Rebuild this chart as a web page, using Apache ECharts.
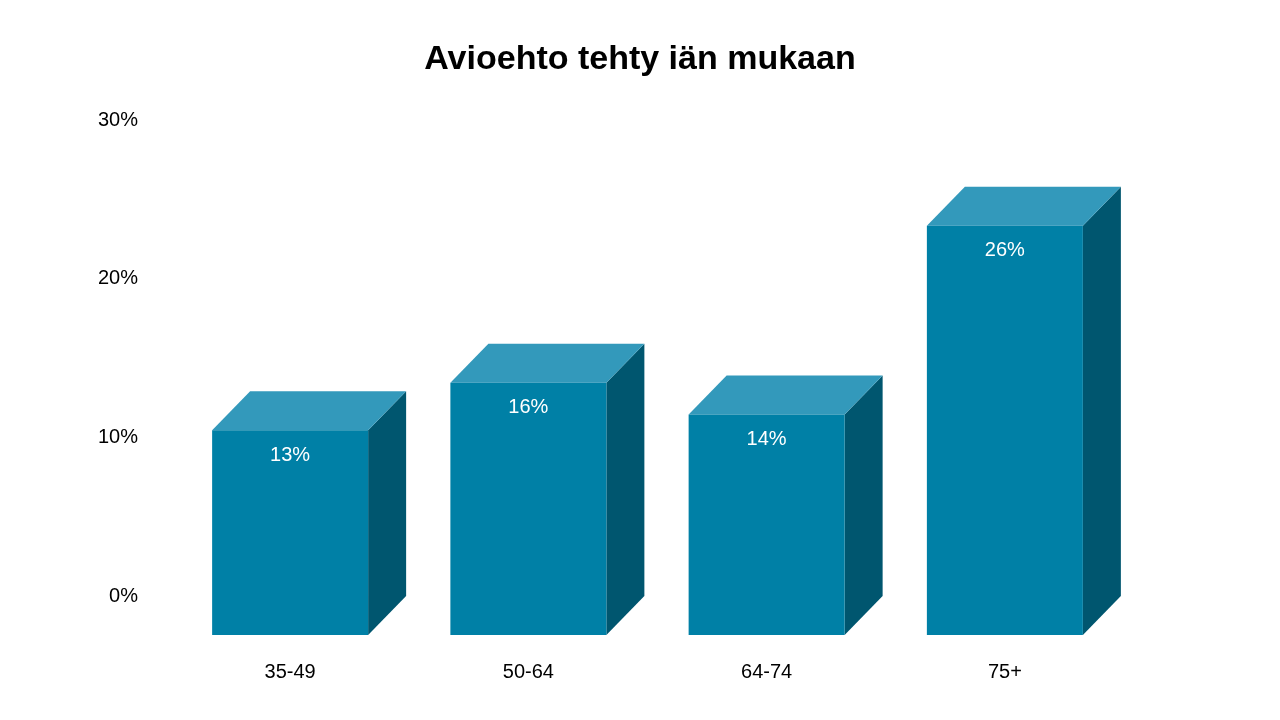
<!DOCTYPE html>
<html><head><meta charset="utf-8">
<script src="https://cdn.jsdelivr.net/npm/echarts@6/dist/echarts.min.js"></script>
<style>html,body{margin:0;background:#fff}#main{width:1280px;height:720px}</style>
</head><body><div id="main"></div>
<script>
const categories = ['35-49', '50-64', '64-74', '75+'];
const values = [12.9, 15.9, 13.9, 25.8];
const labels = ['13%', '16%', '14%', '26%'];
const yTicks = [0, 10, 20, 30];

const DX = 38, DY = 39, HALF = 78;
const chart = echarts.init(document.getElementById('main'));

function renderBar(params, api) {
    const i = api.value(0), v = api.value(1);
    const top = api.coord([i, v]), base = api.coord([i, 0]);
    const cx = top[0];
    const ft = top[1] + DY, fb = base[1] + DY;
    const l = cx - HALF, r = cx + HALF;
    return {
        type: 'group',
        children: [
            { type: 'polygon', shape: { points: [[r, ft], [r + DX, ft - DY], [r + DX, fb - DY], [r, fb]] }, style: { fill: '#00566F' } },
            { type: 'polygon', shape: { points: [[l, ft], [l + DX, ft - DY], [r + DX, ft - DY], [r, ft]] }, style: { fill: '#3399BB' } },
            { type: 'rect', shape: { x: l, y: ft, width: r - l, height: fb - ft }, style: { fill: '#0080A6' } },
            { type: 'text', style: { x: cx, y: ft + 25, text: labels[i], fill: '#fff', font: '20px "Liberation Sans", Arial', align: 'center', verticalAlign: 'middle' } }
        ]
    };
}

chart.setOption({
    animation: false,
    title: { text: 'Avioehto tehty iän mukaan', left: 'center', top: 38, textStyle: { fontSize: 34, fontWeight: 'bold', color: '#000', fontFamily: '"Liberation Sans", Arial' } },
    grid: { left: 171, right: 156, top: 120, bottom: 124 },
    xAxis: { type: 'category', data: categories, axisLine: { show: false }, axisTick: { show: false },
        axisLabel: { margin: 66, fontSize: 20, color: '#000', fontFamily: '"Liberation Sans", Arial' } },
    yAxis: { type: 'value', min: 0, max: 30, interval: 10, splitLine: { show: false },
        axisLabel: { formatter: v => yTicks.includes(v) ? v + '%' : '', margin: 33, fontSize: 20, color: '#000', fontFamily: '"Liberation Sans", Arial' } },
    series: [{ type: 'custom', renderItem: renderBar, data: values.map((v, i) => [i, v]), clip: false }]
});
</script></body></html>
